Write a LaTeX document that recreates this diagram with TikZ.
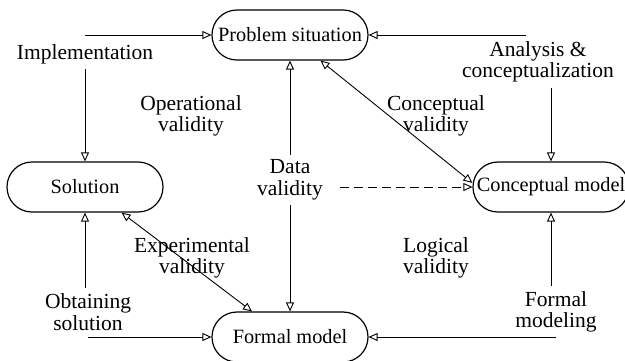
\documentclass[tikz,border=0pt]{standalone}
\usepackage{fontspec}
\setmainfont{Liberation Serif}
\usetikzlibrary{arrows.meta, calc, positioning}

\begin{document}
\begin{tikzpicture}[
    x=1pt, y=-1pt,
    every node/.style={font=\fontsize{21.5}{21.5}\selectfont},
    stage/.style={draw, rectangle, rounded corners=24.9pt, line width=1.2pt, minimum width=156pt, minimum height=50pt, inner sep=0pt, font=\fontsize{20.3}{21}\selectfont},
    lab/.style={align=center, inner sep=5pt},
    arr/.style={draw, line width=0.9pt, -{Triangle[open, length=9pt, width=8pt]}},
    biarr/.style={draw, line width=0.9pt, {Triangle[open, length=9pt, width=8pt]}-{Triangle[open, length=9pt, width=8pt]}}
]
\useasboundingbox (0,0) rectangle (625,360);

\node[stage] (ps) at (290,35) {Problem situation};
\node[stage] (sol) at (85,187) {Solution};
\node[stage] (cm) at (551,187) {Conceptual model};
\node[stage] (fm) at (290,337) {Formal model};

\node[lab] (impl) at (85,54) {Implementation};
\node[lab] (ana) at (538,62) {Analysis \&\\conceptualization};
\node[lab] (op) at (191,116) {Operational\\validity};
\node[lab] (cval) at (436,116) {Conceptual\\validity};
\node[lab] (data) at (290,180) {Data\\validity};
\node[lab] (exp) at (192,258) {Experimental\\validity};
\node[lab] (logic) at (436,258) {Logical\\validity};
\node[lab] (obt) at (88,312) {Obtaining\\solution};
\node[lab] (fmod) at (556,312) {Formal\\modeling};

\draw[arr] (impl.north |- ps.west) -- (ps.west);
\draw[arr] (impl.south) -- (sol.north);
\draw[arr] ([xshift=-12pt]ana.north |- ps.east) -- (ps.east);
\draw[arr] (ana.south -| cm.north) -- (cm.north);
\draw[arr] (obt.north -| sol.south) -- (sol.south);
\draw[arr] (obt.south |- fm.west) -- (fm.west);
\draw[arr] (fmod.north -| cm.south) -- (cm.south);
\draw[arr] (fmod.south |- fm.east) -- (fm.east);
\draw[arr] (data.north) -- (ps.south);
\draw[arr] (data.south) -- (fm.north);
\draw[arr, dash pattern=on 9pt off 5pt] ([xshift=12pt]data.east |- cm.west) -- (cm.west);
\draw[biarr] (ps.-40) -- (cm.177);
\draw[biarr] (sol.-35) -- (fm.146);

\end{tikzpicture}
\end{document}
